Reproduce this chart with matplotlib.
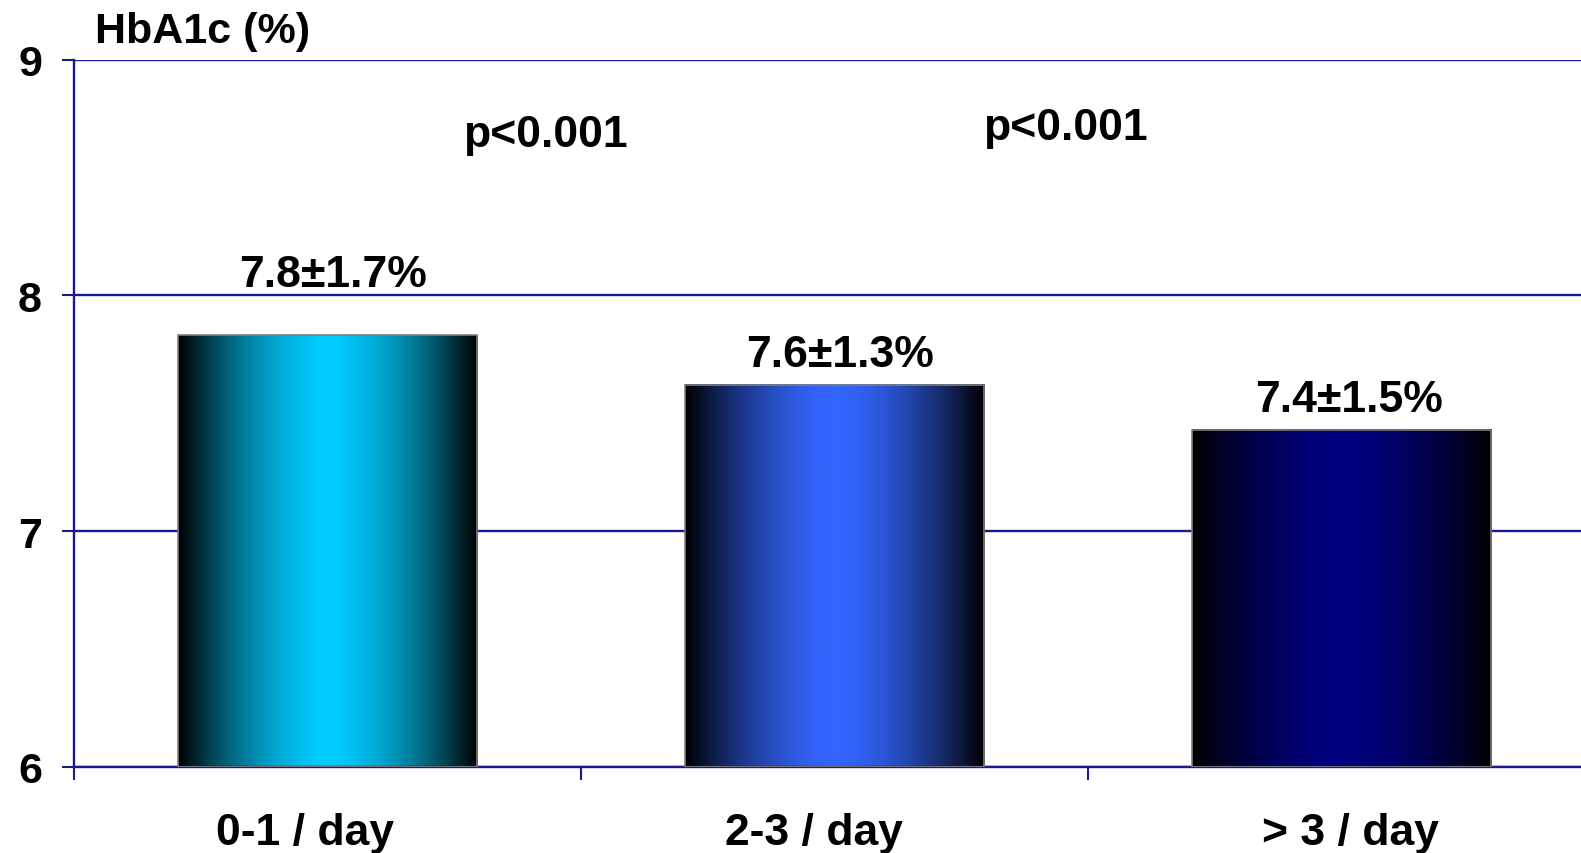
import numpy as np
import matplotlib.pyplot as plt
import matplotlib.transforms as mtransforms
from matplotlib.colors import LinearSegmentedColormap

categories = ['0-1 / day', '2-3 / day', '> 3 / day']
hba1c = [7.83, 7.62, 7.43]
value_labels = ['7.8±1.7%', '7.6±1.3%', '7.4±1.5%']
p_labels = ['p<0.001', 'p<0.001']

bar_colors = ['#00CCFF', '#3366FF', '#000080']
label_y = [8.09, 7.75, 7.56]
label_dx = [0.01, 0.01, 0.015]
cat_dx = [-0.045, -0.04, 0.018]
p_x = [0.43, 1.455]
p_y = [8.68, 8.71]

navy = '#1a1a8c'
plt.rcParams['font.family'] = ['Liberation Sans', 'DejaVu Sans']
plt.rcParams['font.weight'] = 'bold'

fig = plt.figure(figsize=(15.81, 8.54), dpi=100)
ax = fig.add_axes([74 / 1581, 86 / 854, 1521 / 1581, 707.5 / 854])

x = np.arange(len(categories))
bars = ax.bar(x, np.array(hba1c) - 6, bottom=6, width=0.59,
              color='none', edgecolor='#7f7f7f', linewidth=1.2, zorder=3)

# horizontal gradient: black at the edges, full colour in the middle
ramp = np.abs(np.linspace(-1, 1, 256)) ** 1.6
for b, c in zip(bars, bar_colors):
    cmap = LinearSegmentedColormap.from_list('g', [c, '#000000'])
    ax.imshow(ramp[np.newaxis, :], cmap=cmap, aspect='auto', zorder=2,
              extent=[b.get_x(), b.get_x() + b.get_width(), b.get_y(), b.get_y() + b.get_height()])

for xi, dx, txt, yy in zip(x, label_dx, value_labels, label_y):
    ax.text(xi + dx, yy, txt, ha='center', va='center', fontsize=32, fontweight='bold')

for px, py, txt in zip(p_x, p_y, p_labels):
    ax.text(px, py, txt, ha='center', va='center', fontsize=32, fontweight='bold')

ax.text(0.014, 1.04, 'HbA1c (%)', transform=ax.transAxes, ha='left', va='center',
        fontsize=31, fontweight='bold')

# category labels below the axis
trans = mtransforms.blended_transform_factory(ax.transData, ax.transAxes)
for xi, dx, txt in zip(x, cat_dx, categories):
    ax.text(xi + dx, -0.093, txt, transform=trans, ha='center', va='center',
            fontsize=32, fontweight='bold')

ax.set_xlim(-0.5, 2.5)
ax.set_ylim(6, 9)
ax.set_yticks([6, 7, 8, 9])
ax.yaxis.grid(True, color=navy, linewidth=1.7)
ax.set_axisbelow(True)

ax.set_xticks([-0.5, 0.5, 1.5, 2.5])
ax.set_xticklabels([])
ax.tick_params(axis='x', length=9, width=1.5, color=navy, direction='out')
ax.tick_params(axis='y', length=9, width=1.5, color=navy, pad=14, labelsize=31)

for s in ['top', 'right']:
    ax.spines[s].set_visible(False)
for s in ['left', 'bottom']:
    ax.spines[s].set_color(navy)
    ax.spines[s].set_linewidth(1.7)
ax.spines['left'].set_bounds(6, 9)

fig.savefig('out.png', dpi=100)
